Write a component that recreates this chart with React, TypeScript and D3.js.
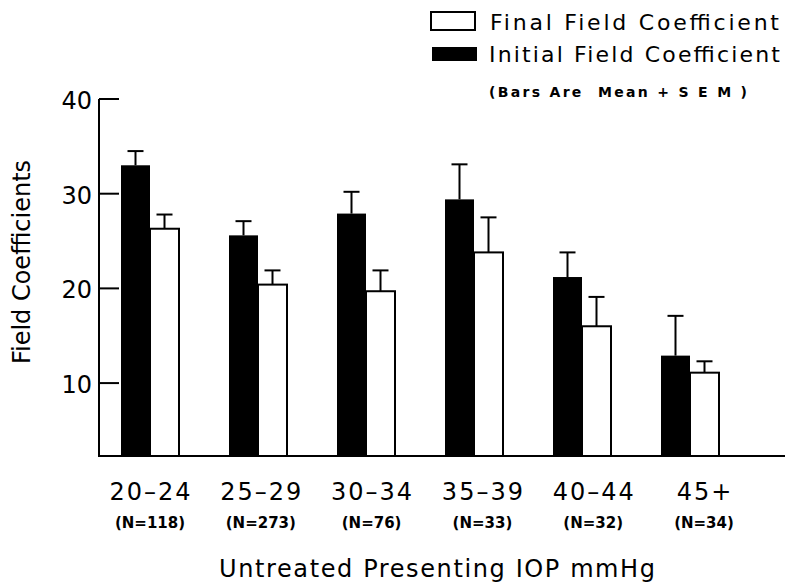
import React from "react";
import * as d3 from "d3";

const categories = ["20–24", "25–29", "30–34", "35–39", "40–44", "45+"];
const nLabels = ["(N=118)", "(N=273)", "(N=76)", "(N=33)", "(N=32)", "(N=34)"];
const initialMean = [33.0, 25.6, 27.9, 29.4, 21.2, 12.9];
const initialSem = [1.5, 1.5, 2.3, 3.7, 2.6, 4.2];
const finalMean = [26.3, 20.4, 19.7, 23.8, 16.0, 11.1];
const finalSem = [1.5, 1.5, 2.2, 3.7, 3.1, 1.2];
const yTicks = [10, 20, 30, 40];

const W = 787;
const H = 585;
const FONT = "'DejaVu Sans', sans-serif";

export default function App() {
  const y = d3.scaleLinear().domain([2.3, 40]).range([456, 99]);
  const x = d3
    .scaleBand<string>()
    .domain(categories)
    .range([96, 744])
    .paddingInner(0.463)
    .paddingOuter(0.2315);
  const xLabel = d3.scalePoint<string>().domain(categories).range([151, 705]);
  const bw = x.bandwidth() / 2;
  const axisX = 99;
  const baseY = y(2.3);
  const cap = 8;

  return (
    <svg width={W} height={H} style={{ position: "absolute", left: 0, top: 0, background: "#fff" }}>
      <rect x={0} y={0} width={W} height={H} fill="#fff" />
      {/* axes */}
      <line x1={axisX} x2={axisX} y1={y(40)} y2={baseY} stroke="#000" strokeWidth={2} />
      <line x1={axisX - 1} x2={785} y1={baseY} y2={baseY} stroke="#000" strokeWidth={2} />
      {yTicks.map((t) => (
        <g key={t}>
          <line x1={axisX} x2={axisX + 20} y1={y(t)} y2={y(t)} stroke="#000" strokeWidth={2} />
          <text
            x={axisX - 7}
            y={y(t) + 3}
            textAnchor="end"
            dominantBaseline="middle"
            fontFamily={FONT}
            fontSize={24}
          >
            {t}
          </text>
        </g>
      ))}
      {/* bars */}
      {categories.map((c, i) => {
        const x0 = x(c)!;
        const xi = x0 + bw / 2;
        const xf = x0 + bw * 1.5;
        const lx = xLabel(c)!;
        return (
          <g key={c}>
            <line x1={xi} x2={xi} y1={y(initialMean[i])} y2={y(initialMean[i] + initialSem[i])} stroke="#000" strokeWidth={2} />
            <line x1={xi - cap} x2={xi + cap} y1={y(initialMean[i] + initialSem[i])} y2={y(initialMean[i] + initialSem[i])} stroke="#000" strokeWidth={2} />
            <line x1={xf} x2={xf} y1={y(finalMean[i])} y2={y(finalMean[i] + finalSem[i])} stroke="#000" strokeWidth={2} />
            <line x1={xf - cap} x2={xf + cap} y1={y(finalMean[i] + finalSem[i])} y2={y(finalMean[i] + finalSem[i])} stroke="#000" strokeWidth={2} />
            <rect x={x0} y={y(initialMean[i])} width={bw} height={baseY - y(initialMean[i])} fill="#000" />
            <rect x={x0 + bw} y={y(finalMean[i])} width={bw} height={baseY - y(finalMean[i])} fill="#fff" stroke="#000" strokeWidth={2} />
            <text x={lx} y={500} textAnchor="middle" fontFamily={FONT} fontSize={24} letterSpacing={2}>
              {c}
            </text>
            <text x={lx - 1} y={528} textAnchor="middle" fontFamily={FONT} fontSize={15} fontWeight="bold">
              {nLabels[i]}
            </text>
          </g>
        );
      })}
      {/* y title */}
      <text
        transform={`translate(30,262) rotate(-90)`}
        textAnchor="middle"
        fontFamily={FONT}
        fontSize={24}
      >
        Field Coefficients
      </text>
      {/* x title */}
      <text x={219} y={577} fontFamily={FONT} fontSize={24} textLength={436} lengthAdjust="spacing">
        Untreated Presenting IOP mmHg
      </text>
      {/* legend */}
      <rect x={431} y={12} width={44} height={18} fill="#fff" stroke="#000" strokeWidth={2} />
      <rect x={432} y={47} width={45} height={14} fill="#000" />
      <text x={490} y={30} fontFamily={FONT} fontSize={22} textLength={289} lengthAdjust="spacing">
        Final Field Coefficient
      </text>
      <text x={489} y={62} fontFamily={FONT} fontSize={22} textLength={291} lengthAdjust="spacing">
        Initial Field Coefficient
      </text>
      <text
        x={489}
        y={97}
        fontFamily={FONT}
        fontSize={14}
        fontWeight="bold"
        textLength={258}
        lengthAdjust="spacing"
        style={{ whiteSpace: "pre" }}
      >
        {"(Bars Are  Mean + S E M )"}
      </text>
    </svg>
  );
}
